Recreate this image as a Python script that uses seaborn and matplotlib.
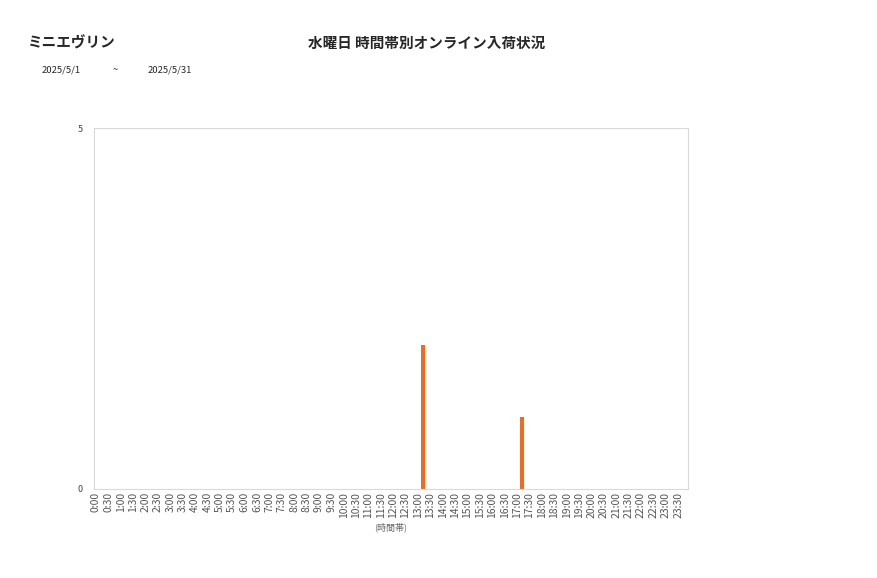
import pandas as pd
import numpy as np
import matplotlib
matplotlib.use("Agg")
import matplotlib.pyplot as plt
import seaborn as sns

# data
time_slots = [f"{h}:{m:02d}" for h in range(24) for m in (0, 30)]
arrivals = [0] * 48
arrivals[time_slots.index("13:00")] = 2
arrivals[time_slots.index("17:00")] = 1

shop_name = "ミニエヴリン"
chart_title = "水曜日 時間帯別オンライン入荷状況"
date_from = "2025/5/1"
date_to = "2025/5/31"

df = pd.DataFrame({"slot": time_slots, "count": arrivals})
df["pos"] = np.arange(len(df))

sns.set_theme(style="white")
plt.rcParams['font.family'] = ['Noto Sans CJK JP', 'DejaVu Sans']

fig = plt.figure(figsize=(8.77, 5.78), dpi=100)
ax = fig.add_axes([94 / 877, 1 - 489 / 578, (688 - 94) / 877, (489 - 128) / 578])

# bars sit slightly right of the slot tick, as in the source chart
ax.bar(df["pos"] + 0.4, df["count"], width=0.28, color="#F26B1D", linewidth=0)

ax.set_xlim(-0.15, 47.8)
ax.set_ylim(0, 5)
ax.set_yticks([0, 5])
ax.set_xticks(df["pos"])
ax.set_xticklabels(df["slot"], rotation=90, fontsize=7.5, color="#555555")
ax.tick_params(axis="y", labelsize=6.5, colors="#444444", length=0, pad=8)
ax.tick_params(axis="x", length=0, pad=2)
for s in ax.spines.values():
    s.set_color("#D9D9D9")
    s.set_linewidth(0.8)
ax.set_xlabel("(時間帯)", fontsize=6.5, color="#666666", labelpad=3)

fig.text(28 / 877, 1 - 43 / 578, shop_name, fontsize=10.5, fontweight="bold", va="center")
fig.text(427 / 877, 1 - 43 / 578, chart_title, fontsize=10.5, fontweight="bold", ha="center", va="center")
fig.text(42 / 877, 1 - 70 / 578, date_from, fontsize=6.8, va="center")
fig.text(115 / 877, 1 - 70 / 578, "~", fontsize=6.8, ha="center", va="center")
fig.text(148 / 877, 1 - 70 / 578, date_to, fontsize=6.8, va="center")

plt.savefig("out.png", dpi=100)
plt.close()
